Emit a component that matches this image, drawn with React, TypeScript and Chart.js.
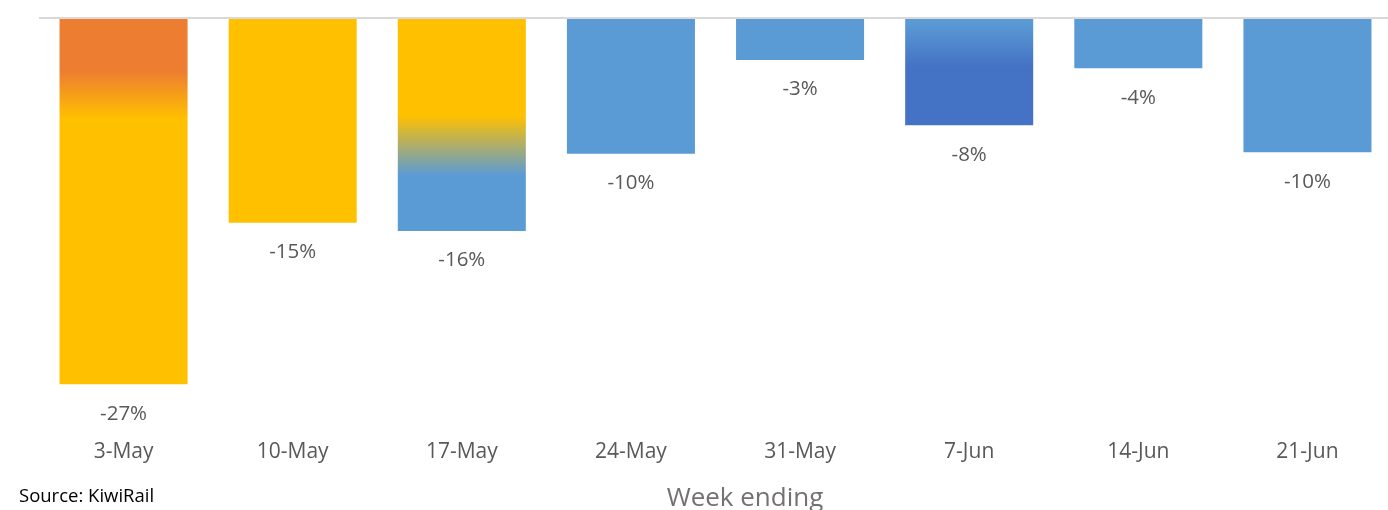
import React, { useEffect, useRef } from "react";
import { Chart, registerables } from "chart.js";

Chart.register(...registerables);

const weeks = ["3-May", "10-May", "17-May", "24-May", "31-May", "7-Jun", "14-Jun", "21-Jun"];
const changePct = [-27.0, -15.1, -15.7, -10.0, -3.1, -7.9, -3.7, -9.9];
const axisTitle = "Week ending";
const sourceNote = "Source: KiwiRail";

const ORANGE = "#ED7D31";
const YELLOW = "#FFC000";
const BLUE = "#5B9BD5";
const DARK_BLUE = "#4472C4";
const FONT = "'Open Sans', 'Noto Sans', sans-serif";

type Fill = string | { stops: [number, string][] };
const fills: Fill[] = [
  { stops: [[-3.9, ORANGE], [-7.4, YELLOW]] },
  YELLOW,
  { stops: [[-7.2, YELLOW], [-11.6, BLUE]] },
  BLUE,
  BLUE,
  { stops: [[-0.3, BLUE], [-3.6, DARK_BLUE]] },
  BLUE,
  BLUE,
];

const valueLabels = {
  id: "valueLabels",
  afterDatasetsDraw(chart: any) {
    const { ctx } = chart;
    const meta = chart.getDatasetMeta(0);
    ctx.save();
    ctx.font = `20.5px ${FONT}`;
    ctx.fillStyle = "#595959";
    ctx.textAlign = "center";
    ctx.textBaseline = "middle";
    meta.data.forEach((bar: any, i: number) => {
      const v = chart.data.datasets[0].data[i] as number;
      ctx.fillText(`${Math.round(v)}%`, bar.x, bar.y + 29.5);
    });
    ctx.restore();
  },
};

const textPlugin = {
  id: "extraText",
  afterDraw(chart: any) {
    const { ctx } = chart;
    ctx.save();
    ctx.font = `18.5px ${FONT}`;
    ctx.fillStyle = "#000000";
    ctx.textAlign = "left";
    ctx.textBaseline = "alphabetic";
    ctx.fillText(sourceNote, 19, 502);
    ctx.font = `26px ${FONT}`;
    ctx.fillStyle = "#767171";
    ctx.textAlign = "center";
    ctx.fillText(axisTitle, 745, 506);
    ctx.restore();
  },
};

export default function App() {
  const ref = useRef<HTMLCanvasElement>(null);

  useEffect(() => {
    if (!ref.current) return;
    const chart = new Chart(ref.current, {
      type: "bar",
      data: {
        labels: weeks,
        datasets: [
          {
            data: changePct,
            borderWidth: 0,
            categoryPercentage: 1,
            barPercentage: 0.757,
            backgroundColor: (c: any) => {
              const f = fills[c.dataIndex];
              if (typeof f === "string") return f;
              const chartObj = c.chart;
              const y = chartObj.scales?.y;
              if (!chartObj.chartArea || !y) return f.stops[f.stops.length - 1][1];
              const y0 = y.getPixelForValue(f.stops[0][0]);
              const y1 = y.getPixelForValue(f.stops[f.stops.length - 1][0]);
              const g = chartObj.ctx.createLinearGradient(0, y0, 0, y1);
              f.stops.forEach((s, k) => {
                g.addColorStop(k / (f.stops.length - 1), s[1]);
              });
              return g;
            },
          },
        ],
      },
      options: {
        responsive: false,
        animation: false,
        devicePixelRatio: 1,
        layout: { padding: { top: 18, left: 39, right: 0, bottom: 0 } },
        plugins: { legend: { display: false }, tooltip: { enabled: false } },
        scales: {
          x: {
            grid: { display: false, drawTicks: false },
            border: { display: false },
            ticks: { color: "#595959", font: { family: FONT, size: 21 }, padding: 14 },
            afterFit: (s: any) => {
              s.height = 85;
            },
          },
          y: {
            min: -30,
            max: 0,
            ticks: { display: false, stepSize: 5 },
            grid: {
              drawTicks: false,
              lineWidth: 2,
              color: (c: any) => (c.tick && c.tick.value === 0 ? "#D9D9D9" : "rgba(0,0,0,0)"),
            },
            border: { display: false },
            afterFit: (s: any) => {
              s.width = 0;
            },
          },
        },
      },
      plugins: [valueLabels, textPlugin],
    });
    return () => chart.destroy();
  }, []);

  return (
    <div style={{ position: "absolute", left: 0, top: 0, width: 1388, height: 510, overflow: "hidden", background: "#fff" }}>
      <canvas ref={ref} width={1392} height={510} style={{ display: "block" }} />
    </div>
  );
}
